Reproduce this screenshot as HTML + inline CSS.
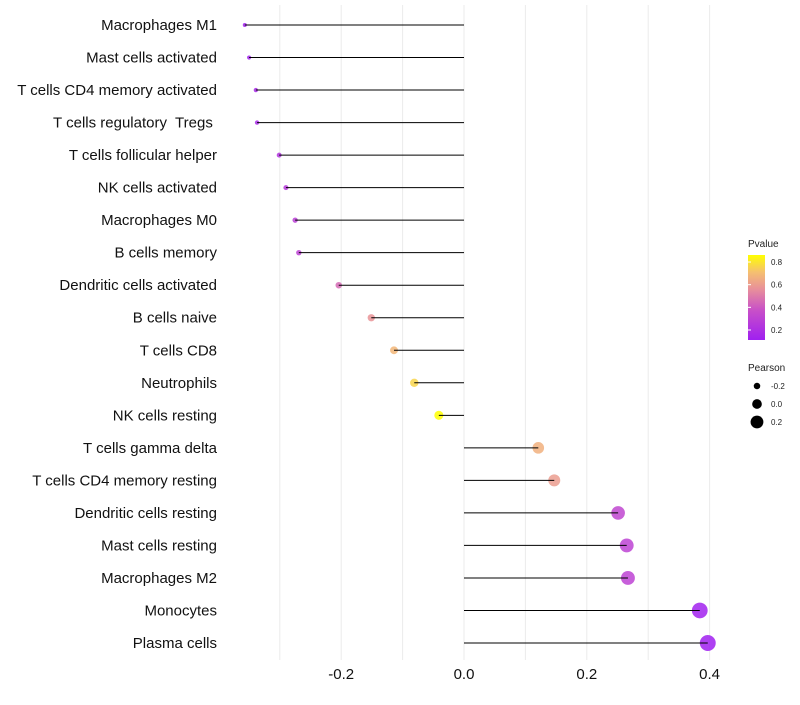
<!DOCTYPE html>
<html><head><meta charset="utf-8"><style>
body{margin:0;background:#fff;font-family:"Liberation Sans",sans-serif}
text{white-space:pre}
</style></head><body>
<svg id="chart" width="800" height="700" xmlns="http://www.w3.org/2000/svg" font-family="Liberation Sans, sans-serif">
<defs><linearGradient id="pg" x1="0" y1="1" x2="0" y2="0">
<stop offset="0" stop-color="#a020f0"/><stop offset="0.35" stop-color="#c850c8"/><stop offset="0.6" stop-color="#e8909a"/><stop offset="0.8" stop-color="#f5c070"/><stop offset="1" stop-color="#ffff00"/>
</linearGradient></defs>
<g id="grid"></g><g id="points"></g><g id="marks"></g><g id="labels"></g><g id="xticks"></g>
<g>
<text x="748" y="247" font-size="10" fill="#222">Pvalue</text>
<rect x="748" y="255" width="17" height="85" fill="url(#pg)"/>
<g id="cbticks"></g>
</g>
<g>
<text x="748" y="371" font-size="10" fill="#222">Pearson</text>
<g id="sizeleg"></g>
</g>
</svg>
<script>
const categories=["Macrophages M1","Mast cells activated","T cells CD4 memory activated","T cells regulatory  Tregs ","T cells follicular helper","NK cells activated","Macrophages M0","B cells memory","Dendritic cells activated","B cells naive","T cells CD8","Neutrophils","NK cells resting","T cells gamma delta","T cells CD4 memory resting","Dendritic cells resting","Mast cells resting","Macrophages M2","Monocytes","Plasma cells"];
const pearson=[-0.357,-0.350,-0.339,-0.337,-0.301,-0.290,-0.275,-0.269,-0.204,-0.151,-0.114,-0.081,-0.041,0.121,0.147,0.251,0.265,0.267,0.384,0.397];
const pvalue=[0.12,0.13,0.16,0.17,0.22,0.25,0.28,0.3,0.45,0.57,0.68,0.76,0.86,0.66,0.6,0.32,0.3,0.3,0.12,0.11];
const xTicks=[-0.2,0,0.2,0.4];
const xTickLabels=["-0.2","0.0","0.2","0.4"];
const cbTicks=[0.2,0.4,0.6,0.8];
const sizeLegend=[-0.2,0.0,0.2];
const NS="http://www.w3.org/2000/svg";
const x=v=>464+v*614;
const y=i=>25+i*(618/19);
const r=v=>2+(v+0.36)/0.76*6;
const cb=p=>330-(p-0.2)*113.3;
function col(p){const s=[[0.11,[160,32,240]],[0.37,[200,80,200]],[0.56,[232,144,154]],[0.71,[245,192,112]],[0.86,[255,255,0]]];
 if(p<=s[0][0])return`rgb(${s[0][1]})`;for(let k=1;k<s.length;k++){if(p<=s[k][0]){const t=(p-s[k-1][0])/(s[k][0]-s[k-1][0]);const c=s[k-1][1].map((a,j)=>Math.round(a+(s[k][1][j]-a)*t));return`rgb(${c})`;}}return"rgb(255,255,0)";}
function mk(tag,at,parent){const e=document.createElementNS(NS,tag);for(const k in at)e.setAttribute(k,at[k]);document.getElementById(parent).appendChild(e);return e;}
for(let v=-0.3;v<=0.41;v+=0.1){const g=mk("line",{x1:x(v),x2:x(v),y1:5,y2:660,stroke:"#ebebeb","stroke-width":1},"grid");

}
categories.forEach((c,i)=>{
 const p=mk("circle",{cx:x(pearson[i]),cy:y(i),r:r(pearson[i]),fill:col(pvalue[i]),"fill-opacity":0.85},"points");
 
 
 const s=mk("line",{x1:x(0),x2:x(pearson[i]),y1:y(i),y2:y(i),stroke:"#000","stroke-width":1},"marks");
 
 
 const t=mk("text",{x:217,y:y(i)+5,"text-anchor":"end","font-size":15,fill:"#111"},"labels");
 t.textContent=c;
 
 
});
xTicks.forEach((v,i)=>{const t=mk("text",{x:x(v),y:679,"text-anchor":"middle","font-size":15,fill:"#111"},"xticks");t.textContent=xTickLabels[i];

});
cbTicks.forEach(v=>{const l=mk("line",{x1:748,x2:751,y1:cb(v),y2:cb(v),stroke:"#fff"},"cbticks");


const t=mk("text",{x:771,y:cb(v)+3,"font-size":8,fill:"#222"},"cbticks");t.textContent=v.toFixed(1);

});
sizeLegend.forEach((v,i)=>{const cy=386+i*18;const c=mk("circle",{cx:757,cy:cy,r:r(v),fill:"#000"},"sizeleg");


const t=mk("text",{x:771,y:cy+3,"font-size":8,fill:"#222"},"sizeleg");t.textContent=v.toFixed(1);

});
</script>
</body></html>
